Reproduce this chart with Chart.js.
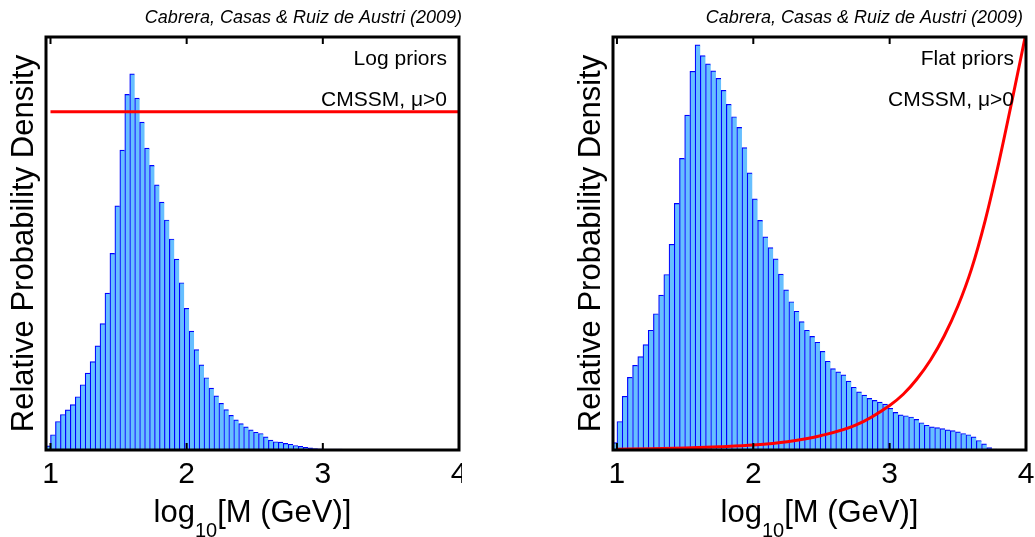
<!DOCTYPE html>
<html>
<head>
<meta charset="utf-8">
<script src="https://cdn.jsdelivr.net/npm/chart.js@4.4.1/dist/chart.umd.min.js"></script>
<style>
    html, body { margin: 0; padding: 0; background: #fff; }
    body { width: 1035px; height: 537px; position: relative; overflow: hidden; }
    canvas { position: absolute; top: 0; }
    #logChart { left: 0; }
    #flatChart { left: 540px; }
</style>
</head>
<body>
<canvas id="logChart" width="462" height="537"></canvas>
<canvas id="flatChart" width="495" height="537"></canvas>
<script>
// -----------------------------
// data (heights relative to the box top = 1)
// -----------------------------
const xTicks = [1, 2, 3, 4];

const citation = "Cabrera, Casas & Ruiz de Austri (2009)";
const yTitle = "Relative Probability Density";
const xTitleParts = ["log", "10", "[M (GeV)]"];
const modelLabel = "CMSSM, \u03bc>0";

// log priors: histogram bins start at 1 - width
const logBinStart = 0.96364;
const logBinWidth = 0.036364;
const logHeights = [
    0.010, 0.037, 0.069, 0.086, 0.097, 0.110, 0.129, 0.158, 0.186, 0.214,
    0.252, 0.306, 0.380, 0.476, 0.591, 0.726, 0.861, 0.911, 0.852, 0.794,
    0.731, 0.689, 0.642, 0.600, 0.557, 0.511, 0.462, 0.405, 0.343, 0.288,
    0.243, 0.206, 0.175, 0.150, 0.131, 0.113, 0.098, 0.084, 0.073, 0.064,
    0.056, 0.049, 0.043, 0.040, 0.032, 0.024, 0.020, 0.019, 0.016, 0.014,
    0.011, 0.009, 0.0065, 0.005, 0.0035, 0.003, 0.0025, 0.002, 0.002, 0.002,
    0.0018, 0.0015, 0.0012, 0.001, 0.001, 0.0008, 0.0006, 0.0005, 0.0004, 0.0003
];
const logPriorX = [1, 4];
const logPriorY = [0.819, 0.819];

// flat priors
const flatBinStart = 0.9618;
const flatBinWidth = 0.0382;
const flatHeights = [
    0.018, 0.069, 0.130, 0.176, 0.205, 0.226, 0.255, 0.290, 0.330, 0.375,
    0.425, 0.498, 0.597, 0.706, 0.811, 0.917, 0.981, 0.955, 0.935, 0.918,
    0.900, 0.871, 0.837, 0.807, 0.781, 0.732, 0.671, 0.608, 0.556, 0.516,
    0.490, 0.463, 0.426, 0.388, 0.359, 0.336, 0.311, 0.290, 0.275, 0.261,
    0.239, 0.215, 0.197, 0.189, 0.182, 0.167, 0.152, 0.141, 0.133, 0.125,
    0.120, 0.116, 0.111, 0.101, 0.091, 0.085, 0.083, 0.080, 0.074, 0.066,
    0.060, 0.056, 0.054, 0.052, 0.049, 0.047, 0.044, 0.040, 0.037, 0.032,
    0.023, 0.015, 0.006, 0.002
];
const flatPriorX = [1.0, 1.25, 1.5, 1.75, 2.0, 2.25, 2.5, 2.75, 3.0, 3.1, 3.2, 3.3, 3.4, 3.5, 3.6, 3.7, 3.8, 3.9, 4.0];
const flatPriorY = [0.002, 0.003, 0.005, 0.008, 0.012, 0.020, 0.035, 0.060, 0.108, 0.135, 0.172, 0.218, 0.276, 0.348, 0.438, 0.555, 0.695, 0.850, 1.01];

const FONT = "'Liberation Sans', Arial, Helvetica, sans-serif";
Chart.defaults.font.family = FONT;

// -----------------------------
// box, inner ticks and texts
// -----------------------------
function panelDecor(p) {
    return {
        id: "panelDecor",
        afterDraw(chart) {
            const ctx = chart.ctx;
            const a = chart.chartArea;
            const xs = chart.scales.x;

            ctx.save();
            ctx.strokeStyle = "#000";
            ctx.lineWidth = 3;
            ctx.strokeRect(a.left, a.top, a.right - a.left, a.bottom - a.top);

            ctx.lineWidth = 2;
            xTicks.forEach(v => {
                const px = xs.getPixelForValue(v);
                ctx.beginPath();
                ctx.moveTo(px, a.bottom);
                ctx.lineTo(px, a.bottom - 7);
                ctx.moveTo(px, a.top);
                ctx.lineTo(px, a.top + 7);
                ctx.stroke();
            });

            ctx.fillStyle = "#000";
            ctx.textBaseline = "alphabetic";

            ctx.font = "italic 18px " + FONT;
            ctx.textAlign = "right";
            ctx.fillText(citation, p.citeX, 23);

            ctx.font = "21px " + FONT;
            ctx.fillText(p.priorLabel, a.right - 12, 65);
            ctx.fillText(modelLabel, a.right - 12, 106);

            // y title
            ctx.save();
            ctx.translate(a.left - 13, (a.top + a.bottom) / 2);
            ctx.rotate(-Math.PI / 2);
            ctx.font = "31px " + FONT;
            ctx.textAlign = "center";
            ctx.fillText(yTitle, 0, 0);
            ctx.restore();

            // x title with subscript
            ctx.textAlign = "left";
            ctx.font = "31px " + FONT;
            const w1 = ctx.measureText(xTitleParts[0]).width;
            const w3 = ctx.measureText(xTitleParts[2]).width;
            ctx.font = "20px " + FONT;
            const w2 = ctx.measureText(xTitleParts[1]).width;
            let tx = (a.left + a.right) / 2 - (w1 + w2 + w3) / 2;
            ctx.font = "31px " + FONT;
            ctx.fillText(xTitleParts[0], tx, 522);
            tx += w1;
            ctx.font = "20px " + FONT;
            ctx.fillText(xTitleParts[1], tx, 537);
            tx += w2;
            ctx.font = "31px " + FONT;
            ctx.fillText(xTitleParts[2], tx, 522);

            ctx.restore();
        }
    };
}

// -----------------------------
// one panel
// -----------------------------
function makePanel(canvasId, p) {
    const bars = p.heights.map((h, i) => ({ x: p.binStart + (i + 0.5) * p.binWidth, y: h }));
    const prior = p.priorX.map((x, i) => ({ x: x, y: p.priorY[i] }));

    return new Chart(document.getElementById(canvasId), {
        type: "bar",
        data: {
            datasets: [
                {
                    type: "line",
                    data: prior,
                    borderColor: "#ff0000",
                    borderWidth: 3,
                    pointRadius: 0,
                    fill: false,
                    cubicInterpolationMode: "monotone",
                    order: 0
                },
                {
                    data: bars,
                    backgroundColor: "#66bfff",
                    borderColor: "#0000ff",
                    borderWidth: { top: 1.2, left: 1.2, right: 0, bottom: 0 },
                    borderSkipped: false,
                    barPercentage: 1,
                    categoryPercentage: 1,
                    clip: 0,
                    order: 1
                }
            ]
        },
        options: {
            responsive: false,
            animation: false,
            layout: {
                padding: { left: 0, right: p.padRight, top: 37, bottom: 0 }
            },
            plugins: {
                legend: { display: false },
                tooltip: { enabled: false }
            },
            scales: {
                x: {
                    type: "linear",
                    min: p.xMin,
                    max: 4,
                    offset: false,
                    grid: { display: false, drawTicks: false },
                    border: { display: false },
                    ticks: {
                        color: "#000",
                        font: { size: 30 },
                        padding: 7,
                        maxRotation: 0,
                        autoSkip: false
                    },
                    afterBuildTicks: s => { s.ticks = xTicks.map(v => ({ value: v })); },
                    afterFit: s => { s.height = 87; s.paddingLeft = 0; s.paddingRight = 0; }
                },
                y: {
                    min: 0,
                    max: 1,
                    grid: { display: false },
                    border: { display: false },
                    ticks: { display: false },
                    afterFit: s => { s.width = p.axisLeft; }
                }
            }
        },
        plugins: [panelDecor(p)]
    });
}

makePanel("logChart", {
    heights: logHeights, binStart: logBinStart, binWidth: logBinWidth,
    priorX: logPriorX, priorY: logPriorY, priorLabel: "Log priors",
    xMin: 0.967, axisLeft: 46, padRight: 3, citeX: 462
});

makePanel("flatChart", {
    heights: flatHeights, binStart: flatBinStart, binWidth: flatBinWidth,
    priorX: flatPriorX, priorY: flatPriorY, priorLabel: "Flat priors",
    xMin: 0.971, axisLeft: 73, padRight: 9, citeX: 483
});
</script>
</body>
</html>
